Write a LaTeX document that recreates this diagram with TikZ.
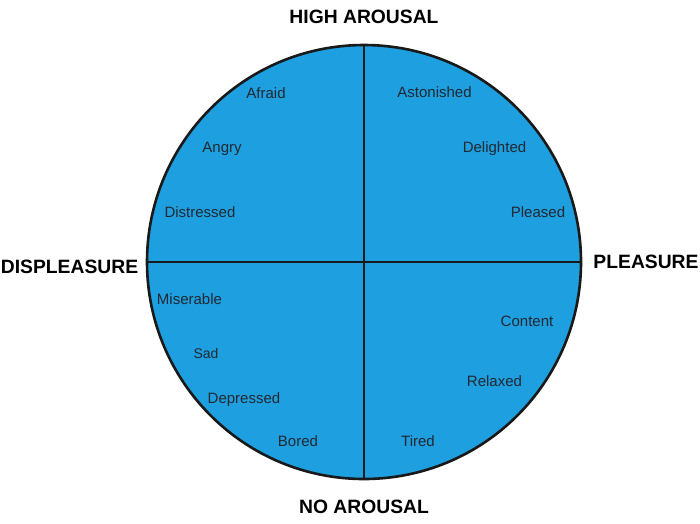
\documentclass[tikz,border=0pt]{standalone}
\usepackage{fontspec}
\setmainfont{Liberation Sans}
\definecolor{wheelblue}{RGB}{29,159,224}
\definecolor{labelgray}{RGB}{35,40,48}
\begin{document}
\begin{tikzpicture}[x=1pt,y=-1pt,
  emo/.style={anchor=base,inner sep=0pt,text=labelgray,font=\fontsize{15}{17}\selectfont},
  axis/.style={anchor=base,inner sep=0pt,text=black,font=\fontsize{19.3}{21}\selectfont\bfseries},
  divider/.style={line width=2.2pt,draw=black!90}]
\useasboundingbox (0,0) rectangle (700,523);
\coordinate (c) at (364,262);
\fill[wheelblue] (c) circle (217);
\coordinate (top) at (364,45);
\coordinate (bot) at (364,479);
\coordinate (lft) at (147,262);
\coordinate (rgt) at (581,262);
\draw[divider] (top) -- (bot);
\draw[divider] (lft) -- (rgt);
\draw[line width=2.6pt,draw=black!90] (c) circle (217);
% axis labels
\node[axis] (high) at (364,23) {HIGH AROUSAL};
\node[axis] (no) at (364,513) {NO AROUSAL};
\node[axis] (displ) at (69.5,273) {DISPLEASURE};
\node[axis] (pleas) at (646,268) {PLEASURE};
% emotions
\node[emo] (afraid) at (266,98) {Afraid};
\node[emo] (angry) at (222,152) {Angry};
\node[emo] (distressed) at (200,217) {Distressed};
\node[emo] (astonished) at (434.5,97) {Astonished};
\node[emo] (delighted) at (494.5,152) {Delighted};
\node[emo] (pleased) at (538,217) {Pleased};
\node[emo] (miserable) at (189.5,304) {Miserable};
\node[emo,font=\fontsize{14}{16}\selectfont] (sad) at (206,358) {Sad};
\node[emo] (depressed) at (244,403) {Depressed};
\node[emo] (bored) at (298,446) {Bored};
\node[emo] (content) at (527,326.5) {Content};
\node[emo] (relaxed) at (494.5,386) {Relaxed};
\node[emo] (tired) at (418,446) {Tired};
\end{tikzpicture}
\end{document}
